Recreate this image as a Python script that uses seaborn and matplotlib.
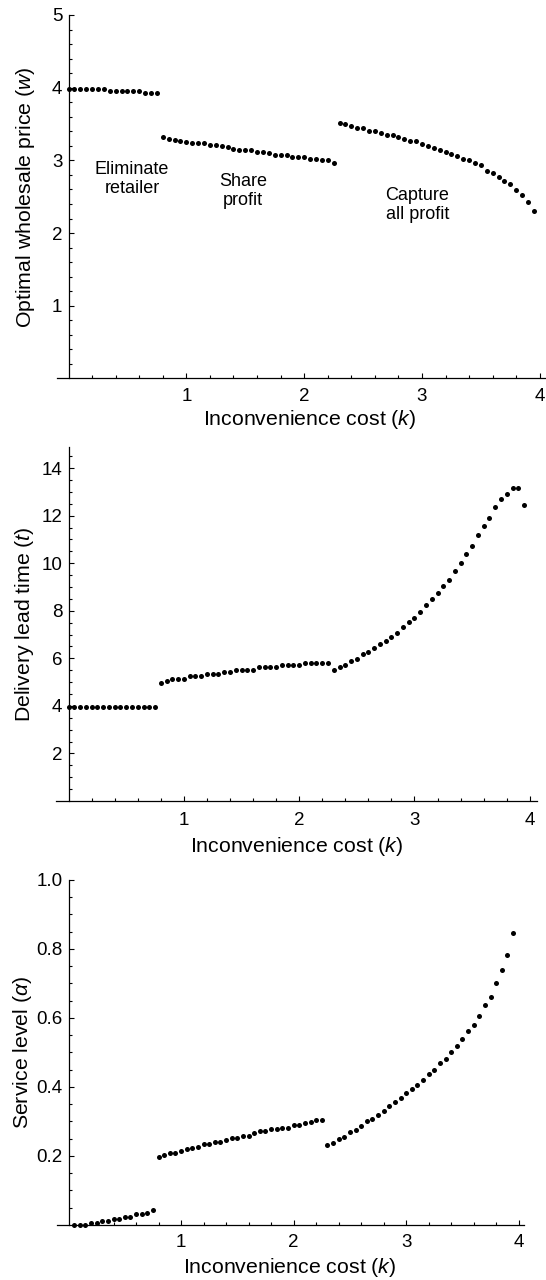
import numpy as np
import pandas as pd
import matplotlib
matplotlib.use("Agg")
import matplotlib.pyplot as plt
import seaborn as sns

# ---------------- data ----------------
K_SEG1 = [0.00, 0.05, 0.10, 0.15, 0.20, 0.25, 0.30, 0.35, 0.40, 0.45, 0.50, 0.55,
          0.60, 0.65, 0.70, 0.75]
K_SEG2 = [0.80, 0.85, 0.90, 0.95, 1.00, 1.05, 1.10, 1.15, 1.20, 1.25, 1.30, 1.35,
          1.40, 1.45, 1.50, 1.55, 1.60, 1.65, 1.70, 1.75, 1.80, 1.85, 1.90, 1.95,
          2.00, 2.05, 2.10, 2.15, 2.20, 2.25]
K_SEG3 = [2.30, 2.35, 2.40, 2.45, 2.50, 2.55, 2.60, 2.65, 2.70, 2.75, 2.80, 2.85,
          2.90, 2.95, 3.00, 3.05, 3.10, 3.15, 3.20, 3.25, 3.30, 3.35, 3.40, 3.45,
          3.50, 3.55, 3.60, 3.65, 3.70, 3.75, 3.80, 3.85, 3.90, 3.95]

# Optimal wholesale price (w)
W_SEG1 = [3.98, 3.98, 3.98, 3.98, 3.98, 3.98, 3.98, 3.95, 3.95, 3.95, 3.95, 3.95,
          3.95, 3.92, 3.92, 3.92]
W_SEG2 = [3.32, 3.30, 3.28, 3.27, 3.25, 3.24, 3.24, 3.24, 3.21, 3.21, 3.20, 3.18,
          3.16, 3.14, 3.14, 3.14, 3.11, 3.11, 3.10, 3.08, 3.08, 3.08, 3.05, 3.05,
          3.05, 3.02, 3.02, 3.01, 3.00, 2.97]
W_SEG3 = [3.51, 3.50, 3.47, 3.45, 3.44, 3.41, 3.41, 3.38, 3.35, 3.35, 3.32, 3.29,
          3.27, 3.26, 3.23, 3.20, 3.17, 3.14, 3.11, 3.09, 3.06, 3.02, 3.00, 2.96,
          2.93, 2.86, 2.83, 2.77, 2.72, 2.68, 2.59, 2.53, 2.43, 2.31]

# Delivery lead time (t)
T_SEG1 = [3.96, 3.96, 3.96, 3.96, 3.96, 3.96, 3.96, 3.96, 3.96, 3.96, 3.96, 3.96,
          3.96, 3.96, 3.96, 3.96]
T_SEG2 = [4.97, 5.06, 5.15, 5.15, 5.15, 5.24, 5.24, 5.24, 5.34, 5.34, 5.34, 5.43,
          5.43, 5.52, 5.52, 5.52, 5.52, 5.62, 5.62, 5.62, 5.62, 5.71, 5.71, 5.71,
          5.71, 5.80, 5.80, 5.80, 5.80, 5.80]
T_SEG3 = [5.53, 5.63, 5.71, 5.90, 5.99, 6.18, 6.27, 6.43, 6.61, 6.71, 6.88, 7.06,
          7.33, 7.51, 7.68, 7.96, 8.23, 8.51, 8.76, 9.04, 9.30, 9.66, 10.01, 10.38,
          10.73, 11.19, 11.56, 11.91, 12.35, 12.71, 12.91, 13.17, 13.17, 12.46]

# Service level (alpha)
A_K_SEG1 = [0.05, 0.10, 0.15, 0.20, 0.25, 0.30, 0.35, 0.40, 0.45, 0.50, 0.55,
            0.60, 0.65, 0.70, 0.75]
A_SEG1 = [0.000, 0.000, 0.000, 0.005, 0.005, 0.012, 0.012, 0.018, 0.018, 0.024,
          0.024, 0.031, 0.031, 0.036, 0.043]
A_SEG2 = [0.198, 0.204, 0.210, 0.210, 0.215, 0.220, 0.223, 0.225, 0.234, 0.234,
          0.240, 0.240, 0.246, 0.252, 0.252, 0.257, 0.259, 0.266, 0.271, 0.272,
          0.277, 0.278, 0.282, 0.282, 0.290, 0.291, 0.297, 0.299, 0.304, 0.305]
A_SEG3 = [0.231, 0.238, 0.250, 0.256, 0.270, 0.275, 0.287, 0.300, 0.306, 0.319,
          0.331, 0.344, 0.356, 0.369, 0.382, 0.394, 0.407, 0.419, 0.438, 0.450,
          0.469, 0.482, 0.500, 0.519, 0.538, 0.563, 0.581, 0.606, 0.637, 0.662,
          0.701, 0.739, 0.782, 0.845]

X_TICKS = [1, 2, 3, 4]
X_TICKLABELS = ["1", "2", "3", "4"]
W_TICKS = [1, 2, 3, 4, 5]
W_TICKLABELS = ["1", "2", "3", "4", "5"]
T_TICKS = [2, 4, 6, 8, 10, 12, 14]
T_TICKLABELS = ["2", "4", "6", "8", "10", "12", "14"]
A_TICKS = [0.2, 0.4, 0.6, 0.8, 1.0]
A_TICKLABELS = ["0.2", "0.4", "0.6", "0.8", "1.0"]

REGION_LABELS = ["Eliminate\nretailer", "Share\nprofit", "Capture\nall profit"]
REGION_X = [0.54, 1.48, 2.96]
REGION_Y = [2.74, 2.58, 2.39]

XLABEL = r"Inconvenience cost ($k$)"
YLABELS = [r"Optimal wholesale price ($w$)", r"Delivery lead time ($t$)",
           r"Service level ($\alpha$)"]

# ---------------- style ----------------
sns.set_theme(style="white")
plt.rcParams["font.family"] = ["Liberation Sans", "DejaVu Sans"]
plt.rcParams["mathtext.fontset"] = "custom"
plt.rcParams["mathtext.rm"] = "Liberation Sans"
plt.rcParams["mathtext.it"] = "Liberation Sans:italic"
plt.rcParams["mathtext.bf"] = "Liberation Sans:bold"
plt.rcParams["text.color"] = "black"
plt.rcParams["axes.labelcolor"] = "black"
plt.rcParams["xtick.color"] = "black"
plt.rcParams["ytick.color"] = "black"
plt.rcParams["axes.edgecolor"] = "black"


def make_df(k_lists, v_lists):
    frames = []
    for i, (kk, vv) in enumerate(zip(k_lists, v_lists)):
        frames.append(pd.DataFrame({"k": kk, "v": vv, "seg": i}))
    return pd.concat(frames, ignore_index=True)


df_w = make_df([K_SEG1, K_SEG2, K_SEG3], [W_SEG1, W_SEG2, W_SEG3])
df_t = make_df([K_SEG1, K_SEG2, K_SEG3], [T_SEG1, T_SEG2, T_SEG3])
df_a = make_df([A_K_SEG1, K_SEG2, K_SEG3], [A_SEG1, A_SEG2, A_SEG3])

fig = plt.figure(figsize=(5.46, 12.8), dpi=100)

panels = [
    dict(rect=[0.1040, 0.7043, 0.8954, 0.2840], df=df_w, xlim=(-0.10, 4.05),
         ylim=(0, 5), yt=W_TICKS, ytl=W_TICKLABELS, ystep=0.2, ymax=5,
         xl=(0.517, -0.112), yl=-0.065, xpad=6.8),
    dict(rect=[0.1024, 0.3742, 0.8806, 0.2768], df=df_t, xlim=(-0.11, 4.06),
         ylim=(0, 14.9), yt=T_TICKS, ytl=T_TICKLABELS, ystep=0.5, ymax=14.9,
         xl=(0.501, -0.127), yl=-0.0655, xpad=7.8),
    dict(rect=[0.1049, 0.0430, 0.8544, 0.2695], df=df_a, xlim=(-0.10, 4.045),
         ylim=(0, 1.0), yt=A_TICKS, ytl=A_TICKLABELS, ystep=0.05, ymax=1.0,
         xl=(0.4986, -0.122), yl=-0.0744, xpad=6.3),
]

for i, p in enumerate(panels):
    ax = fig.add_axes(p["rect"])
    sns.scatterplot(data=p["df"], x="k", y="v", ax=ax, color="black", s=13,
                    linewidth=0, legend=False, clip_on=False, zorder=3)
    ax.set_xlim(*p["xlim"])
    ax.set_ylim(*p["ylim"])
    for s in ["top", "right"]:
        ax.spines[s].set_visible(False)
    ax.spines["left"].set_position(("data", 0))
    ax.spines["bottom"].set_position(("data", 0))
    for s in ["left", "bottom"]:
        ax.spines[s].set_linewidth(0.9)
        ax.spines[s].set_color("black")

    ax.set_xticks(X_TICKS)
    ax.set_xticklabels(X_TICKLABELS)
    xminor = [round(v, 2) for v in np.arange(0.2, 4.0, 0.2)
              if abs(v - round(v)) > 1e-6]
    ax.set_xticks(xminor, minor=True)
    ax.set_yticks(p["yt"])
    ax.set_yticklabels(p["ytl"])
    yminor = [round(v, 3) for v in np.arange(p["ystep"], p["ymax"] + 1e-9, p["ystep"])
              if min(abs(v - t) for t in p["yt"]) > 1e-6]
    ax.set_yticks(yminor, minor=True)

    ax.tick_params(which="both", direction="in", bottom=True, left=True,
                   top=False, right=False, color="black", width=0.8)
    ax.tick_params(which="major", length=3.6)
    ax.tick_params(which="minor", length=2.2)
    ax.tick_params(axis="x", which="major", pad=p["xpad"], labelsize=13.5)
    ax.tick_params(axis="y", which="major", pad=4.5, labelsize=13.5)
    ax.grid(False)

    ax.set_xlabel(XLABEL, fontsize=15.3, va="center", ha="center")
    ax.xaxis.set_label_coords(*p["xl"])
    ax.set_ylabel(YLABELS[i], fontsize=15.3, va="center", ha="center")
    ax.yaxis.set_label_coords(p["yl"], 0.5)

    if i == 0:
        for lab, lx, ly in zip(REGION_LABELS, REGION_X, REGION_Y):
            ax.text(lx, ly, lab, ha="center", va="center", fontsize=13,
                    linespacing=1.15)

fig.savefig("out.png", dpi=100)
